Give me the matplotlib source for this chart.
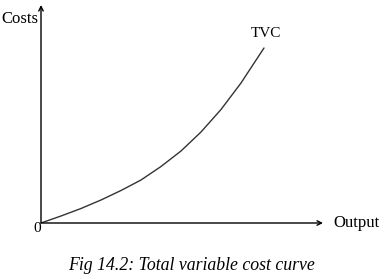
import matplotlib
matplotlib.use("Agg")
import matplotlib.pyplot as plt

# curve (output vs total variable cost, arbitrary units)
output = [0, 20, 40, 60, 80, 100, 120, 140, 160, 180, 200, 223]
tvc = [0, 7, 14.5, 23, 32.5, 43, 56.5, 72, 91, 113.5, 140, 175]

x_max = 282
y_max = 218

plt.rcParams['font.family'] = ['Liberation Serif', 'DejaVu Serif']

fig = plt.figure(figsize=(3.9, 2.79), dpi=100)
ax = fig.add_axes([41 / 390, 56 / 279, 282 / 390, 218 / 279])
ax.set_xlim(0, x_max)
ax.set_ylim(0, y_max)
ax.axis('off')

arrow = dict(arrowstyle='->', color='black', lw=1.0, shrinkA=0, shrinkB=0,
             mutation_scale=8)
ax.annotate('', xy=(x_max, 0), xytext=(0, 0), arrowprops=arrow, annotation_clip=False)
ax.annotate('', xy=(0, y_max), xytext=(0, 0), arrowprops=arrow, annotation_clip=False)

ax.plot(output, tvc, color='#333333', lw=1.0, solid_capstyle='round')

ax.text(output[-1] + 2, tvc[-1] + 8, 'TVC', fontsize=11, ha='center', va='bottom')
ax.text(-3, y_max - 14, 'Costs', fontsize=12, ha='right', va='center')
ax.text(-4, -5, '0', fontsize=11, ha='center', va='center')
ax.text(x_max + 10, 0, 'Output', fontsize=12, ha='left', va='center')

fig.text(191.5 / 390, 1 - 265 / 279, 'Fig 14.2: Total variable cost curve', fontsize=12.8,
         style='italic', ha='center', va='center')

fig.savefig('out.png', dpi=100)
